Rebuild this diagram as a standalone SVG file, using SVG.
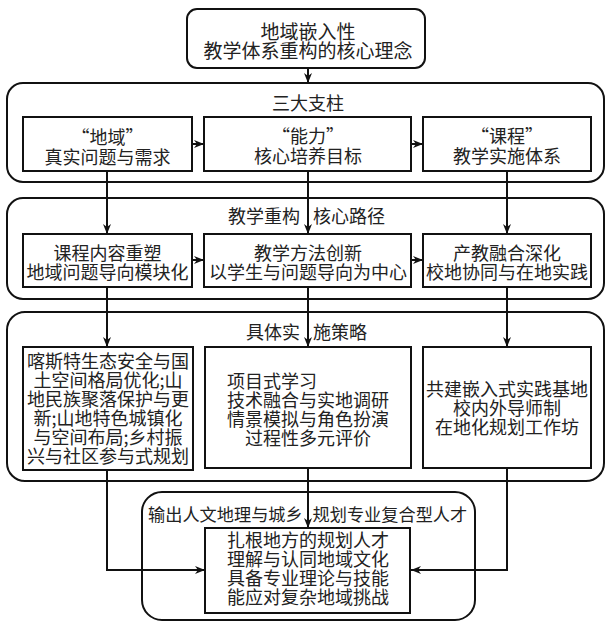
<svg xmlns="http://www.w3.org/2000/svg" width="609" height="623" viewBox="0 0 609 623">
<style>
.box{fill:#fff;stroke:#111;stroke-width:2}
.cont{fill:none;stroke:#111;stroke-width:2}
.ln{fill:none;stroke:#111;stroke-width:2}
text{font-family:"Noto Sans CJK SC","Liberation Sans",sans-serif;fill:#222;dominant-baseline:central;text-anchor:middle;font-size:18px}
.big{font-size:19px}
.ttl{text-anchor:start}
.st{text-anchor:start}
</style>
<defs>
<marker id="ah" markerUnits="userSpaceOnUse" markerWidth="10" markerHeight="10" viewBox="0 0 10 10" refX="10" refY="5" orient="auto">
<path d="M0,1 L10,5 L0,9 L3,5 Z" fill="#111"/>
</marker>
</defs>
<rect width="609" height="623" fill="#fff"/>

<g id="containers">
<rect id="pillars" class="cont" x="7" y="83" width="597" height="99" rx="16"/>
<rect id="paths" class="cont" x="7" y="198" width="597" height="101" rx="16"/>
<rect id="strategies" class="cont" x="7" y="312" width="597" height="169" rx="18"/>
<rect id="output" class="cont" x="142" y="492" width="333" height="128" rx="20"/>
</g>

<g id="connectors">
<path class="ln" d="M308,68 V83" marker-end="url(#ah)"/>
<path class="ln" d="M192,144 H204" marker-end="url(#ah)"/>
<path class="ln" d="M411,144 H423" marker-end="url(#ah)"/>
<path class="ln" d="M107,171 V234" marker-end="url(#ah)"/>
<path class="ln" d="M308,171 V234" marker-end="url(#ah)"/>
<path class="ln" d="M507,171 V234" marker-end="url(#ah)"/>
<path class="ln" d="M192,260 H204" marker-end="url(#ah)"/>
<path class="ln" d="M411,260 H423" marker-end="url(#ah)"/>
<path class="ln" d="M107,287 V347" marker-end="url(#ah)"/>
<path class="ln" d="M308,287 V347" marker-end="url(#ah)"/>
<path class="ln" d="M507,287 V347" marker-end="url(#ah)"/>
<path class="ln" d="M107,470 V570 H205" marker-end="url(#ah)"/>
<path class="ln" d="M308,468 V528" marker-end="url(#ah)"/>
<path class="ln" d="M507,468 V570 H411" marker-end="url(#ah)"/>
</g>

<g id="titles">
<text x="308" y="102">三大支柱</text>
<text class="ttl" x="228" y="215">教学重构 <tspan dx="9">核心路径</tspan></text>
<text class="ttl" x="246" y="331">具体实 <tspan dx="9">施策略</tspan></text>
<text class="ttl" x="148" y="513" style="font-size:17.2px">输出人文地理与城乡 <tspan dx="6">规划专业复合型人才</tspan></text>
</g>

<g id="core">
<rect class="box" x="187" y="9" width="238" height="59" rx="10"/>
<text class="big" x="308" y="30">地域嵌入性</text>
<text class="big" x="308" y="49">教学体系重构的核心理念</text>
</g>

<g id="p1">
<rect class="box" x="23" y="117" width="169" height="54"/>
<text x="107.5" y="136">“地域”</text>
<text x="107.5" y="156">真实问题与需求</text>
</g>
<g id="p2">
<rect class="box" x="204" y="117" width="207" height="54"/>
<text x="308" y="135">“能力”</text>
<text x="308" y="155">核心培养目标</text>
</g>
<g id="p3">
<rect class="box" x="423" y="117" width="168" height="54"/>
<text x="507" y="135">“课程”</text>
<text x="507" y="155">教学实施体系</text>
</g>

<g id="r1">
<rect class="box" x="23" y="234" width="169" height="53"/>
<text x="107.5" y="252">课程内容重塑</text>
<text x="107.5" y="271">地域问题导向模块化</text>
</g>
<g id="r2">
<rect class="box" x="204" y="234" width="207" height="53"/>
<text x="308" y="252">教学方法创新</text>
<text x="308" y="271">以学生与问题导向为中心</text>
</g>
<g id="r3">
<rect class="box" x="423" y="234" width="168" height="53"/>
<text x="507" y="252">产教融合深化</text>
<text x="507" y="271">校地协同与在地实践</text>
</g>

<g id="s1">
<rect class="box" x="23" y="347" width="170" height="123"/>
<text x="108" y="360">喀斯特生态安全与国</text>
<text x="108" y="379">土空间格局优化;山</text>
<text x="108" y="398">地民族聚落保护与更</text>
<text x="108" y="417">新;山地特色城镇化</text>
<text x="108" y="436">与空间布局;乡村振</text>
<text x="108" y="455">兴与社区参与式规划</text>
</g>
<g id="s2">
<rect class="box" x="205" y="347" width="206" height="121"/>
<text class="st" x="227" y="380">项目式学习</text>
<text x="308" y="399">技术融合与实地调研</text>
<text x="308" y="418">情景模拟与角色扮演</text>
<text x="308" y="437">过程性多元评价</text>
</g>
<g id="s3">
<rect class="box" x="423" y="347" width="168" height="121"/>
<text x="507" y="388">共建嵌入式实践基地</text>
<text x="507" y="407">校内外导师制</text>
<text x="507" y="426">在地化规划工作坊</text>
</g>

<g id="talent">
<rect class="box" x="205" y="528" width="205" height="85"/>
<text x="308" y="539">扎根地方的规划人才</text>
<text x="308" y="558">理解与认同地域文化</text>
<text x="308" y="577">具备专业理论与技能</text>
<text x="308" y="596">能应对复杂地域挑战</text>
</g>
</svg>
